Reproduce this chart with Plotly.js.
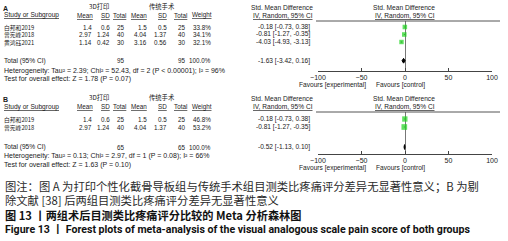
<!DOCTYPE html>
<html><head><meta charset="utf-8">
<script src="https://cdn.plot.ly/plotly-3.0.1.min.js"></script>
<style>html,body{margin:0;padding:0;background:#fff}#chart{width:508px;height:241px}</style>
</head><body><div id="chart"></div>
<script>
// ---------- data ----------
const groupLabel1 = "3D打印";
const groupLabel2 = "传统手术";
const studiesA = ["白邦和2019", "曾宪峰2018", "黄鸿钰2021"];
const mean1A = ["1.4", "2.97", "1.14"];
const sd1A = ["0.6", "1.24", "0.42"];
const n1A = [25, 40, 30];
const mean2A = ["1.5", "4.04", "3.16"];
const sd2A = ["0.5", "1.37", "0.56"];
const n2A = [25, 40, 30];
const weightA = [33.8, 34.1, 32.1];
const smdA = [-0.18, -0.81, -4.03];
const loA = [-0.73, -1.27, -4.93];
const hiA = [0.38, -0.35, -3.13];
const totalA = {n1: 95, n2: 95, smd: -1.63, lo: -3.42, hi: 0.16};
const hetA = "Heterogeneity: Tau² = 2.39; Chi² = 52.43, df = 2 (P < 0.00001); I² = 96%";
const testA = "Test for overall effect: Z = 1.78 (P = 0.07)";

const studiesB = ["白邦和2019", "曾宪峰2018"];
const mean1B = ["1.4", "2.97"];
const sd1B = ["0.6", "1.24"];
const n1B = [25, 40];
const mean2B = ["1.5", "4.04"];
const sd2B = ["0.5", "1.37"];
const n2B = [25, 40];
const weightB = [46.8, 53.2];
const smdB = [-0.18, -0.81];
const loB = [-0.73, -1.27];
const hiB = [0.38, -0.35];
const totalB = {n1: 65, n2: 65, smd: -0.52, lo: -1.13, hi: 0.10};
const hetB = "Heterogeneity: Tau² = 0.13; Chi² = 2.97, df = 1 (P = 0.08); I² = 66%";
const testB = "Test for overall effect: Z = 1.63 (P = 0.10)";

const xTicks = [-100, -50, 0, 50, 100];
const captionLines = [
  "图注：图 A 为打印个性化截骨导板组与传统手术组目测类比疼痛评分差异无显著性意义；B 为剔",
  "除文献 [38] 后两组目测类比疼痛评分差异无显著性意义",
  "图 13 丨两组术后目测类比疼痛评分比较的 Meta 分析森林图",
  "Figure 13 丨 Forest plots of meta-analysis of the visual analogous scale pain score of both groups"
];

// ---------- layout helpers ----------
const W = 508, H = 241;
const px = x => x / W, py = y => 1 - y / H;
const TXT = "#1a1a1a";
const FT = "Liberation Sans, Arial, Noto Sans CJK SC, sans-serif";
const FS = 6.3;
const annotations = [], shapes = [], traces = [];
function t(x, y, text, anchor, opts) {
  opts = opts || {};
  annotations.push({xref: "paper", yref: "paper", x: px(x), y: py(y), text: text,
    xanchor: anchor || "left", yanchor: "middle", showarrow: false, borderpad: 0,
    font: Object.assign({family: FT, size: FS, color: TXT}, opts.font || {})});
}

// column right edges
const colX = {m1: 93, s1: 111, n1: 126, m2: 148, s2: 168, n2: 187, w: 212, eff: 311};

function panel(p) {
  const idx = p.letter === "A" ? "" : "2";
  const rowY = i => p.rowY0 + i * p.rowStep;
  const nS = p.studies.length;
  const totIdx = nS + 1.5;
  const h1 = p.lineY - 14, h2 = p.lineY - 5.5;
  t(2, h1 + 1.5, "<b>" + p.letter + "</b>", "left", {font: {size: 7}});
  t(99, h1 - 1, groupLabel1, "center", {font: {size: 6.3, family: "Noto Sans CJK SC"}});
  t(162, h1 - 1, groupLabel2, "center", {font: {size: 6.3, family: "Noto Sans CJK SC"}});
  t(282, h1, "Std. Mean Difference", "center", {font: {size: 6.6}});
  t(404, h1, "Std. Mean Difference", "center", {font: {size: 6.6}});
  t(3, h2, "<u>Study or Subgroup</u>", "left", {font: {size: 6.6}});
  const hdr = [["Mean", colX.m1 + 1], ["SD", colX.s1], ["Total", colX.n1 + 1], ["Mean", colX.m2], ["SD", colX.s2], ["Total", colX.n2 + 1], ["Weight", colX.w + 1]];
  hdr.forEach(h => t(h[1], h2, "<u>" + h[0] + "</u>", "right"));
  t(283, h2, "<u>IV, Random, 95% CI</u>", "center", {font: {size: 6.6}});
  t(405, h2, "<u>IV, Random, 95% CI</u>", "center", {font: {size: 6.6}});
  shapes.push({type: "line", xref: "paper", yref: "paper", x0: px(316), x1: px(500), y0: py(p.lineY), y1: py(p.lineY), line: {color: "#555", width: 1}});
  p.studies.forEach((s, i) => {
    const y = rowY(i);
    t(3, y, s, "left", {font: {family: "Noto Sans CJK SC, Liberation Sans", size: 5.8}});
    t(colX.m1, y, p.m1[i], "right"); t(colX.s1, y, p.s1[i], "right"); t(colX.n1, y, String(p.n1[i]), "right");
    t(colX.m2, y, p.m2[i], "right"); t(colX.s2, y, p.s2[i], "right"); t(colX.n2, y, String(p.n2[i]), "right");
    t(colX.w, y, p.w[i].toFixed(1) + "%", "right");
    t(colX.eff, y, p.smd[i].toFixed(2) + " [" + p.lo[i].toFixed(2) + ", " + p.hi[i].toFixed(2) + "]", "right", {font: {size: 6.6}});
  });
  const yt = rowY(totIdx);
  t(3, yt, "Total (95% CI)", "left", {font: {size: 6.6}});
  t(colX.n1, yt, String(p.tot.n1), "right"); t(colX.n2, yt, String(p.tot.n2), "right");
  t(colX.w, yt, "100.0%", "right");
  t(colX.eff, yt, p.tot.smd.toFixed(2) + " [" + p.tot.lo.toFixed(2) + ", " + p.tot.hi.toFixed(2) + "]", "right", {font: {size: 6.6}});
  t(3, p.hetY, p.het, "left", {font: {size: 7}});
  t(3, p.hetY + 8.5, p.test, "left", {font: {size: 7}});
  t(367, p.axisY + 14, "Favours [experimental]", "right", {font: {size: 6.6}});
  t(375, p.axisY + 14, "Favours [control]", "left", {font: {size: 6.6}});

  p.studies.forEach((s, i) => {
    traces.push({type: "scatter", mode: "lines", x: [p.lo[i], p.hi[i]], y: [i, i],
      xaxis: "x" + idx, yaxis: "y" + idx, line: {color: "#333", width: 1}, hoverinfo: "skip", showlegend: false});
  });
  traces.push({type: "scatter", mode: "markers", x: p.smd, y: p.studies.map((s, i) => i),
    xaxis: "x" + idx, yaxis: "y" + idx, showlegend: false,
    marker: {symbol: "square", color: "#1ed41e", size: p.w.map(w => Math.sqrt(w) * 0.78), line: {width: 0}}});
  const dh = 0.32 * 7.5 / p.rowStep;
  traces.push({type: "scatter", mode: "lines", fill: "toself", fillcolor: "#000",
    x: [p.tot.lo, p.tot.smd, p.tot.hi, p.tot.smd, p.tot.lo],
    y: [totIdx, totIdx - dh, totIdx, totIdx + dh, totIdx],
    xaxis: "x" + idx, yaxis: "y" + idx, line: {color: "#000", width: 1}, showlegend: false});

  const yTop = (p.lineY - p.rowY0) / p.rowStep, yBot = (p.axisY - p.rowY0) / p.rowStep;
  return {
    x: {domain: [px(318), px(492)], range: [-100, 100], tickvals: xTicks, ticks: "inside", ticklen: 3,
        tickcolor: "#444", showline: true, linecolor: "#444", linewidth: 1, zeroline: true,
        zerolinecolor: "#777", zerolinewidth: 1, showgrid: false, anchor: "y" + idx,
        tickfont: {family: FT, size: 7, color: TXT}, fixedrange: true},
    y: {domain: [py(p.axisY), py(p.lineY)], range: [yBot, yTop], visible: false, showgrid: false,
        zeroline: false, anchor: "x" + idx, fixedrange: true}
  };
}

const axA = panel({letter: "A", rowY0: 27, rowStep: 7.5, lineY: 21, axisY: 71, hetY: 70.5,
  studies: studiesA, m1: mean1A, s1: sd1A, n1: n1A, m2: mean2A, s2: sd2A, n2: n2A, w: weightA,
  smd: smdA, lo: loA, hi: hiA, tot: totalA, het: hetA, test: testA});
const axB = panel({letter: "B", rowY0: 119, rowStep: 8, lineY: 112, axisY: 154, hetY: 156,
  studies: studiesB, m1: mean1B, s1: sd1B, n1: n1B, m2: mean2B, s2: sd2B, n2: n2B, w: weightB,
  smd: smdB, lo: loB, hi: hiB, tot: totalB, het: hetB, test: testB});

const capY = [186, 200, 214.5, 229.5];
captionLines.forEach((c, i) => {
  let font;
  if (i < 2) font = {family: "Noto Sans CJK SC", size: 11.3, color: "#2a2a2a"};
  else if (i === 2) font = {family: "Noto Sans CJK SC", size: 11.2, color: "#111", weight: 700};
  else font = {family: "Roboto, Noto Sans CJK SC", size: 10.6, color: "#111", weight: 700};
  t(4, capY[i], i >= 2 ? "<b>" + c + "</b>" : c, "left", {font: font});
});

const layout = {
  width: W, height: H, margin: {l: 0, r: 0, t: 0, b: 0},
  paper_bgcolor: "#fff", plot_bgcolor: "rgba(0,0,0,0)", showlegend: false,
  xaxis: axA.x, yaxis: axA.y, xaxis2: axB.x, yaxis2: axB.y,
  annotations: annotations, shapes: shapes
};
Plotly.newPlot("chart", traces, layout, {staticPlot: true, displayModeBar: false});
</script></body></html>
